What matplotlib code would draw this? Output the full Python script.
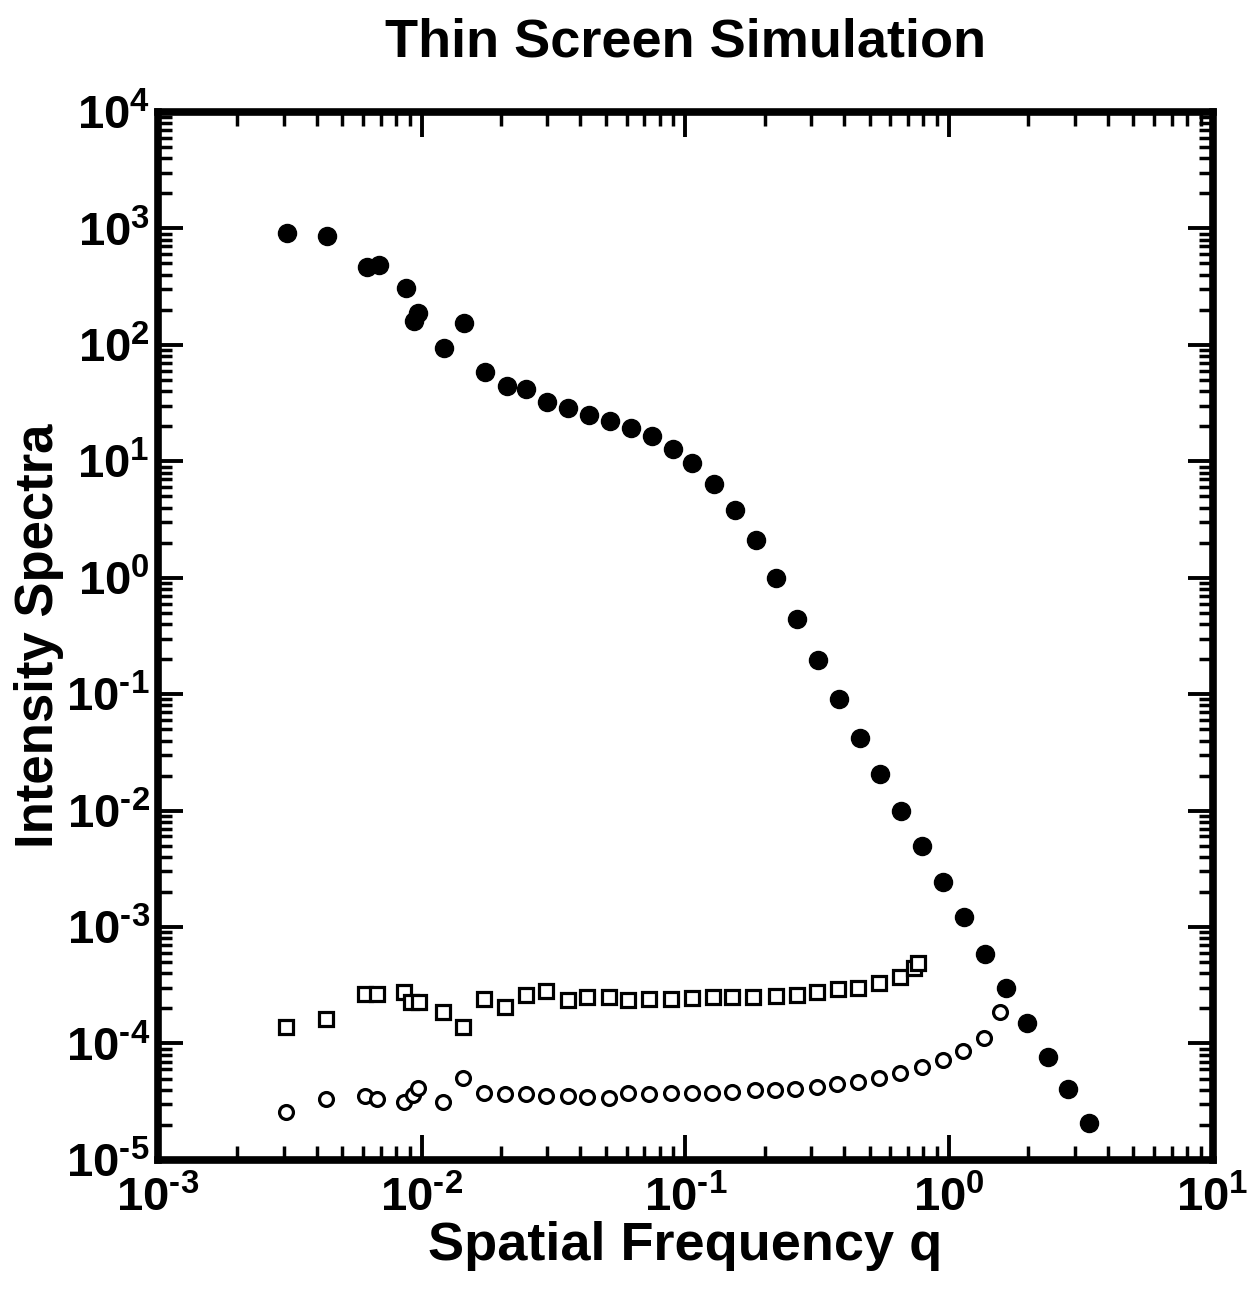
import numpy as np
import matplotlib
matplotlib.use('Agg')
import matplotlib.pyplot as plt
from matplotlib.ticker import LogLocator, NullFormatter, FuncFormatter

plt.rcParams['font.family'] = ['Liberation Sans', 'DejaVu Sans']
plt.rcParams['font.weight'] = 'bold'
plt.rcParams['mathtext.fontset'] = 'custom'
plt.rcParams['mathtext.rm'] = 'Liberation Sans:bold'
plt.rcParams['mathtext.bf'] = 'Liberation Sans:bold'
plt.rcParams['mathtext.default'] = 'rm'
plt.rcParams['axes.unicode_minus'] = False

# filled circles: total intensity spectrum
q_total = [0.00308, 0.00438, 0.0062, 0.00688, 0.00871, 0.00935, 0.00968, 0.01214,
           0.01445, 0.01737, 0.02104, 0.02483, 0.02985, 0.0359, 0.0430, 0.0517,
           0.0621, 0.0747, 0.0897, 0.1059, 0.1283, 0.1541, 0.185, 0.220, 0.265,
           0.318, 0.382, 0.459, 0.546, 0.656, 0.788, 0.946, 1.137, 1.367, 1.641,
           1.972, 2.367, 2.84, 3.39]
s_total = [915, 861, 466, 485, 308, 160, 187, 94, 154, 58, 44, 41.7, 32, 28.6,
           24.9, 22.1, 19.3, 16.4, 12.7, 9.65, 6.37, 3.81, 2.10, 0.99, 0.44,
           0.196, 0.0906, 0.0419, 0.0206, 0.00989, 0.00494, 0.00243, 0.00121,
           0.000583, 0.000298, 0.000149, 7.62e-5, 4.05e-5, 2.06e-5]

# open squares
q_sq = [0.00305, 0.00434, 0.0061, 0.0068, 0.00855, 0.0091, 0.0098, 0.0120,
        0.0143, 0.0172, 0.0207, 0.0248, 0.0297, 0.0359, 0.0422, 0.0513, 0.0607,
        0.073, 0.0882, 0.106, 0.127, 0.151, 0.180, 0.220, 0.265, 0.315, 0.379,
        0.451, 0.542, 0.651, 0.735, 0.76]
s_sq = [1.38e-4, 1.61e-4, 2.65e-4, 2.65e-4, 2.75e-4, 2.26e-4, 2.29e-4, 1.85e-4,
        1.38e-4, 2.40e-4, 2.05e-4, 2.59e-4, 2.81e-4, 2.35e-4, 2.49e-4, 2.49e-4,
        2.35e-4, 2.40e-4, 2.40e-4, 2.45e-4, 2.49e-4, 2.49e-4, 2.49e-4, 2.54e-4,
        2.59e-4, 2.75e-4, 2.92e-4, 2.98e-4, 3.29e-4, 3.71e-4, 4.43e-4, 4.89e-4]

# open circles
q_oc = [0.00305, 0.00434, 0.0061, 0.0068, 0.00855, 0.0093, 0.0097, 0.0120,
        0.0143, 0.0172, 0.0207, 0.0248, 0.0297, 0.0359, 0.0422, 0.0513, 0.0607,
        0.073, 0.0882, 0.106, 0.126, 0.151, 0.184, 0.218, 0.260, 0.315, 0.375,
        0.451, 0.542, 0.651, 0.788, 0.946, 1.127, 1.355, 1.557]
s_oc = [2.56e-5, 3.32e-5, 3.52e-5, 3.32e-5, 3.13e-5, 3.59e-5, 4.12e-5, 3.13e-5,
        5.02e-5, 3.73e-5, 3.66e-5, 3.66e-5, 3.52e-5, 3.52e-5, 3.45e-5, 3.38e-5,
        3.73e-5, 3.66e-5, 3.73e-5, 3.73e-5, 3.73e-5, 3.81e-5, 3.96e-5, 3.96e-5,
        4.05e-5, 4.21e-5, 4.46e-5, 4.64e-5, 5.02e-5, 5.55e-5, 6.25e-5, 7.18e-5,
        8.58e-5, 1.11e-4, 1.85e-4]


def pow10_label(v, pos):
    n = int(round(np.log10(v)))
    exp = str(n).replace('-', '\u2010')
    return '$\\mathdefault{10^{%s}}$' % exp


fig = plt.figure(figsize=(12.54, 12.96), dpi=100)
ax = fig.add_axes([0.126, 0.105, 0.841, 0.8086])

ax.plot(q_total, s_total, 'o', color='black', markersize=13, linestyle='none')
ax.plot(q_sq, s_sq, 's', mfc='white', mec='black', mew=2.3, markersize=10, linestyle='none')
ax.plot(q_oc, s_oc, 'o', mfc='white', mec='black', mew=2.3, markersize=10, linestyle='none')

ax.set_xscale('log')
ax.set_yscale('log')
ax.set_xlim(1e-3, 1e1)
ax.set_ylim(1e-5, 1e4)

ax.xaxis.set_major_locator(LogLocator(base=10, numticks=10))
ax.yaxis.set_major_locator(LogLocator(base=10, numticks=12))
ax.xaxis.set_minor_locator(LogLocator(base=10, subs=np.arange(2, 10), numticks=100))
ax.yaxis.set_minor_locator(LogLocator(base=10, subs=np.arange(2, 10), numticks=100))
ax.xaxis.set_major_formatter(FuncFormatter(pow10_label))
ax.yaxis.set_major_formatter(FuncFormatter(pow10_label))
ax.xaxis.set_minor_formatter(NullFormatter())
ax.yaxis.set_minor_formatter(NullFormatter())

for s in ax.spines.values():
    s.set_linewidth(5.5)
ax.tick_params(which='both', direction='in', top=True, right=True, labelsize=34)
ax.tick_params(which='major', length=18, width=2.8)
ax.tick_params(which='minor', length=10, width=2.5)
ax.tick_params(axis='x', which='major', pad=12)
ax.tick_params(axis='y', which='major', pad=6)

ax.set_title('Thin Screen Simulation', fontsize=39, fontweight='bold', pad=40)
ax.set_xlabel('Spatial Frequency q', fontsize=39, fontweight='bold')
ax.set_ylabel('Intensity Spectra', fontsize=38, fontweight='bold')
ax.xaxis.set_label_coords(0.5, -0.058)
ax.yaxis.set_label_coords(-0.0895, 0.5)

fig.savefig('out.png', dpi=100)
